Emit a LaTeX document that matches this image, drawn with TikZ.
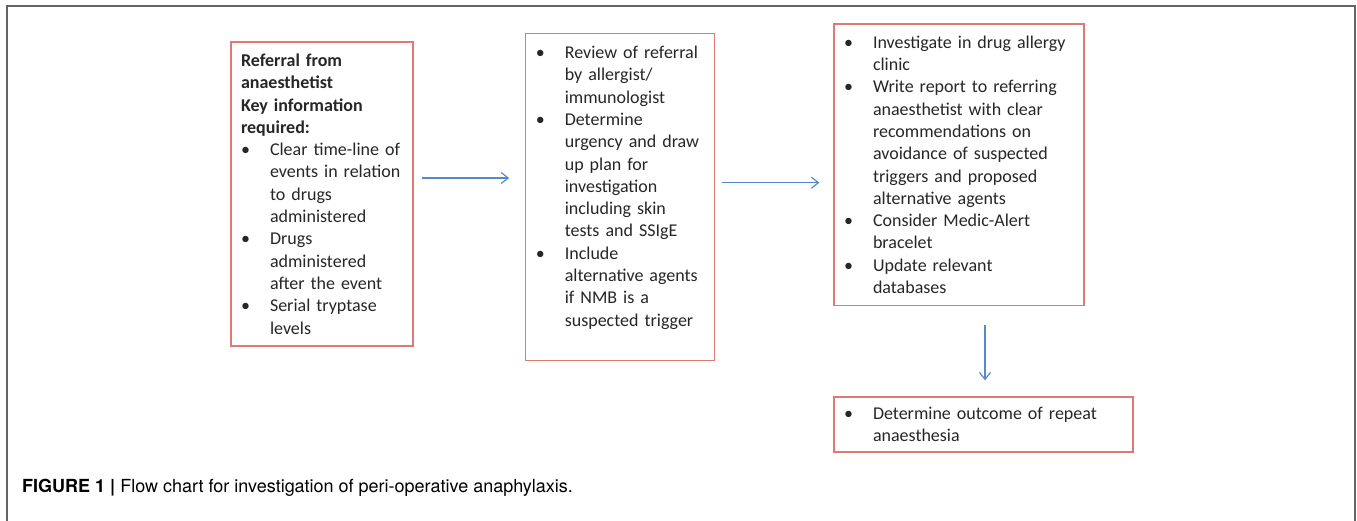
\documentclass[tikz,border=0pt]{standalone}
\usepackage{fontspec}
\setmainfont{Carlito}
\newfontfamily\capfont{TeX Gyre Heros}
\usepackage{tikz}
\usetikzlibrary{arrows.meta,positioning}
\definecolor{boxred}{RGB}{226,120,118}
\definecolor{flowblue}{RGB}{84,138,204}
\definecolor{framegray}{RGB}{100,100,100}
\newcommand{\bul}{\makebox[29pt][l]{\textbullet}}
\newcommand{\ind}{\hspace*{29pt}}
\tikzset{
	box/.style={draw=boxred,line width=1.3pt,rectangle,align=left,inner xsep=10pt,inner ysep=0pt,
		font=\fontsize{18pt}{22.3pt}\selectfont,text=black!85},
	flow/.style={draw=flowblue,line width=1.2pt,-{Straight Barb[length=7pt,width=11pt,line width=1.2pt]}}
}
\begin{document}
\begin{tikzpicture}[x=1pt,y=-1pt]
			\useasboundingbox (0,0) rectangle (1357,521);
			\draw[framegray,line width=1.5pt] (7,530) -- (7,6) -- (1355,6) -- (1355,530);
			\node[box,text width=162pt,minimum height=304pt] (ref) at (322,194) {%
				\textbf{Referral from}\\ \textbf{anaesthetist}\\ \textbf{Key information}\\ \textbf{required:}\\
				\bul Clear time-line of\\ \ind events in relation\\ \ind to drugs\\ \ind administered\\
				\bul Drugs\\ \ind administered\\ \ind after the event\\
				\bul Serial tryptase\\ \ind levels};
			\node[box,text width=169pt,minimum height=327pt] (rev) at (620.3,197.3) {%
				\bul Review of referral\\ \ind by allergist/\\ \ind immunologist\\
				\bul Determine\\ \ind urgency and draw\\ \ind up plan for\\ \ind investigation\\ \ind including skin\\ \ind tests and SSIgE\\
				\bul Include\\ \ind alternative agents\\ \ind if NMB is a\\ \ind suspected trigger\\ \mbox{}};
			\node[box,text width=230pt,minimum height=281.5pt] (inv) at (959,164.7) {%
				\bul Investigate in drug allergy\\ \ind clinic\\
				\bul Write report to referring\\ \ind anaesthetist with clear\\ \ind recommendations on\\ \ind avoidance of suspected\\ \ind triggers and proposed\\ \ind alternative agents\\
				\bul Consider Medic-Alert\\ \ind bracelet\\
				\bul Update relevant\\ \ind databases};
			\node[box,text width=279pt,minimum height=55pt] (out) at (983.5,424.5) {%
				\bul Determine outcome of repeat\\ \ind anaesthesia};
			\node[anchor=west,inner sep=0pt,font=\capfont\fontsize{18pt}{21pt}\selectfont] (cap) at (22,488)
				{\textbf{FIGURE 1 |} Flow chart for investigation of peri-operative anaphylaxis.};
			
			\draw[flow] ([xshift=8pt,yshift=16pt]ref.east) -- ([xshift=-16pt,yshift=19.3pt]rev.west);
			\draw[flow] ([xshift=7pt,yshift=14.6pt]rev.east) -- ([xshift=-14pt,yshift=-18pt]inv.west);
			\draw[flow] ([xshift=26pt,yshift=-18.5pt]inv.south) -- ([xshift=1.5pt,yshift=16pt]out.north);
		\end{tikzpicture}
\end{document}
